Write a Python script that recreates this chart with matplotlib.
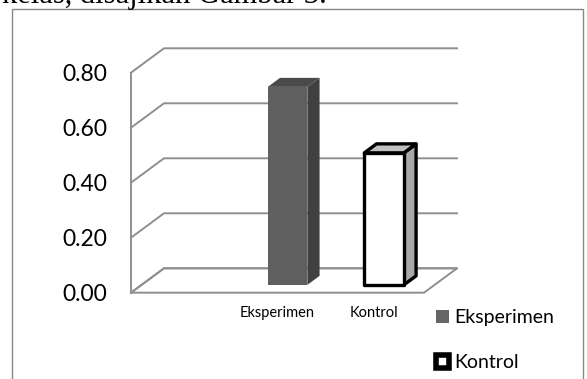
import matplotlib
matplotlib.use('Agg')
import matplotlib.pyplot as plt
from matplotlib.patches import Polygon, Rectangle, Patch

# data
categories = ['Eksperimen', 'Kontrol']
values = [0.72, 0.48]
yticks = [0.0, 0.2, 0.4, 0.6, 0.8]
ytick_labels = ['0.00', '0.20', '0.40', '0.60', '0.80']

face_front = ['#5f5f5f', '#ffffff']
face_side = ['#404040', '#a8a8a8']
face_top = ['#4a4a4a', '#c0c0c0']
edge = ['none', 'black']
grid_c = '#8f8f8f'

# depth vector (data units) from back wall to front edge of floor
DX, DY = -0.342, -0.0887
XMIN, XMAX = -1.513, 1.523
BAR_W = 0.41
D_BACK, D_FRONT = 0.31, 0.68


def proj(x, y, d):
    return (x + d * DX, y + d * DY)


fig = plt.figure(figsize=(5.87, 3.79), dpi=100)
ax = fig.add_axes([164 / 587, (379 - 268.3) / 379, 293 / 587, 220 / 379])
ax.set_xlim(XMIN, XMAX)
ax.set_ylim(0, 0.8)
ax.axis('off')

# back wall + side wall gridlines
for v in yticks:
    pts = [proj(XMAX, v, 0), proj(XMIN, v, 0), proj(XMIN, v, 1)]
    ax.plot([p[0] for p in pts], [p[1] for p in pts], color=grid_c, lw=1.4,
            clip_on=False, solid_joinstyle='miter')
p0 = proj(XMIN, 0, 1)
p1 = proj(XMIN, yticks[-1], 1)
ax.plot([p0[0], p1[0]], [p0[1], p1[1]], color=grid_c, lw=1.4, clip_on=False)

# floor
floor = [proj(XMIN, 0, 0), proj(XMAX, 0, 0), proj(XMAX, 0, 1), proj(XMIN, 0, 1)]
ax.add_patch(Polygon(floor, closed=True, facecolor='white', edgecolor=grid_c,
                     lw=1.4, clip_on=False, zorder=1))

# bars
for i, (cat, v) in enumerate(zip(categories, values)):
    l, r = i - BAR_W / 2, i + BAR_W / 2
    lw = 2.4 if edge[i] != 'none' else 0
    side = [proj(r, 0, D_FRONT), proj(r, 0, D_BACK), proj(r, v, D_BACK), proj(r, v, D_FRONT)]
    top = [proj(l, v, D_FRONT), proj(r, v, D_FRONT), proj(r, v, D_BACK), proj(l, v, D_BACK)]
    front = [proj(l, 0, D_FRONT), proj(r, 0, D_FRONT), proj(r, v, D_FRONT), proj(l, v, D_FRONT)]
    for poly, fc in [(side, face_side[i]), (top, face_top[i]), (front, face_front[i])]:
        ax.add_patch(Polygon(poly, closed=True, facecolor=fc, edgecolor=edge[i],
                             lw=lw, joinstyle='round', clip_on=False, zorder=3))
    ax.annotate(cat, xy=proj(i, 0, 1), xytext=(0, -14.8), textcoords='offset points',
                ha='center', va='center', fontsize=10.5, family='Lato',
                annotation_clip=False)

# y tick labels on the front plane
for v, lab in zip(yticks, ytick_labels):
    ax.annotate(lab, xy=proj(XMIN, v, 1), xytext=(-17, -1.4), textcoords='offset points',
                ha='right', va='center', fontsize=16.5, family='Lato',
                annotation_clip=False)

handles = [Patch(facecolor='#666666', edgecolor='none'),
           Patch(facecolor='white', edgecolor='black', lw=4)]
fig.legend(handles, categories, loc='upper left', bbox_to_anchor=(436 / 587, 1 - 309 / 379),
           frameon=False, prop={'family': 'Lato', 'size': 14}, handlelength=0.65,
           handleheight=0.65, handletextpad=0.3, labelspacing=1.45, borderpad=0,
           borderaxespad=0)

# outer frame of the figure box
fig.add_artist(Rectangle((11.5 / 587, -0.1), (583 - 11.5) / 587, 1.1 - 9 / 379,
                         transform=fig.transFigure, fill=False, edgecolor='#888888', lw=1))

# caption line cut off at the top
fig.text(2 / 587, 1 - 3.5 / 379, 'kelas, disajikan Gambar 3.', family='Liberation Serif',
         fontsize=22, va='baseline', ha='left')

fig.savefig('out.png', dpi=100)
